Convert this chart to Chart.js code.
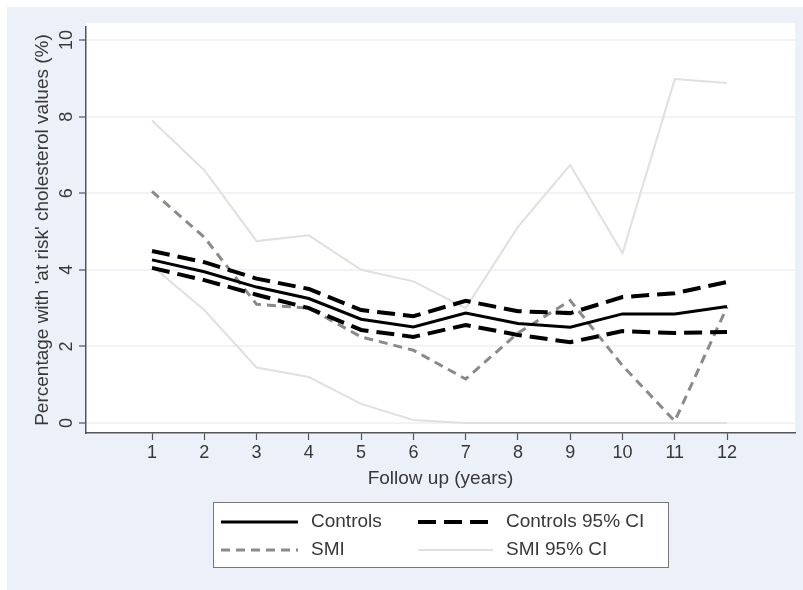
<!DOCTYPE html>
<html>
<head>
<meta charset="utf-8">
<script src="https://cdn.jsdelivr.net/npm/chart.js@4.4.1/dist/chart.umd.min.js"></script>
<style>
  html, body { margin: 0; padding: 0; background: #fff; }
</style>
</head>
<body>
<canvas id="chart" width="803" height="590"></canvas>
<script>
// values
const years = [1, 2, 3, 4, 5, 6, 7, 8, 9, 10, 11, 12];
const controls = [4.26, 3.95, 3.55, 3.25, 2.71, 2.51, 2.87, 2.6, 2.5, 2.85, 2.85, 3.04];
const controlsUpper = [4.49, 4.2, 3.77, 3.5, 2.95, 2.79, 3.19, 2.92, 2.87, 3.29, 3.39, 3.68];
const controlsLower = [4.05, 3.73, 3.35, 3.0, 2.43, 2.25, 2.56, 2.3, 2.11, 2.4, 2.35, 2.38];
const smi = [6.05, 4.85, 3.1, 3.0, 2.25, 1.9, 1.15, 2.35, 3.2, 1.5, 0.05, 3.03];
const smiUpper = [7.9, 6.6, 4.75, 4.9, 4.0, 3.7, 3.0, 5.12, 6.74, 4.43, 8.98, 8.88];
const smiLower = [4.1, 2.95, 1.45, 1.2, 0.5, 0.08, 0, 0, 0, 0, 0, 0];
const yTicks = [0, 2, 4, 6, 8, 10];
const legendLabels = ['Controls', 'Controls 95% CI', 'SMI', 'SMI 95% CI'];

const FONT = 'Liberation Sans, Arial, sans-serif';
const TXT = '#383838';

// background: bluish graph region, white plot region
const bgPlugin = {
  id: 'bg',
  beforeDraw(chart) {
    const ctx = chart.ctx, a = chart.chartArea;
    ctx.save();
    ctx.fillStyle = '#ecf0f8';
    ctx.fillRect(7, 7, chart.width - 7, chart.height - 7);
    ctx.fillStyle = '#fff';
    ctx.fillRect(a.left, a.top - 4, a.right - a.left, a.bottom - a.top + 4);
    ctx.restore();
  }
};

// two-column boxed legend like Stata's
const legendBox = {
  id: 'legendBox',
  afterDraw(chart) {
    const ctx = chart.ctx, a = chart.chartArea;
    const ds = chart.data.datasets;
    const w = 455, h = 65;
    const x0 = Math.round((a.left + a.right) / 2 - w / 2), y0 = 502;
    ctx.save();
    ctx.fillStyle = '#fff';
    ctx.fillRect(x0, y0, w, h);
    ctx.strokeStyle = '#777';
    ctx.lineWidth = 1;
    ctx.strokeRect(x0 + 0.5, y0 + 0.5, w, h);
    // dataset index for each legend entry
    const src = [0, 1, 3, 4];
    const cols = [{ s: 8, e: 85, t: 98 }, { s: 205, e: 280, t: 293 }];
    const rows = [20, 48];
    ctx.font = '19px ' + FONT;
    ctx.textBaseline = 'middle';
    legendLabels.forEach((lab, i) => {
      const d = ds[src[i]];
      const c = cols[i % 2], y = y0 + rows[Math.floor(i / 2)];
      ctx.beginPath();
      ctx.strokeStyle = d.borderColor;
      ctx.lineWidth = d.borderWidth;
      ctx.setLineDash(d.borderDash || []);
      ctx.moveTo(x0 + c.s, y);
      ctx.lineTo(x0 + c.e, y);
      ctx.stroke();
      ctx.setLineDash([]);
      ctx.fillStyle = TXT;
      ctx.fillText(lab, x0 + c.t, y);
    });
    ctx.restore();
  }
};

const ctrlCI = { borderColor: '#000', borderWidth: 4, borderDash: [18, 8], order: 2 };
const smiCI = { borderColor: '#e0e0e0', borderWidth: 2, borderDash: [], order: 4 };

const data = {
  labels: years,
  datasets: [
    { label: 'Controls', data: controls, borderColor: '#000', borderWidth: 3, order: 1 },
    Object.assign({ label: 'Controls 95% CI', data: controlsUpper }, ctrlCI),
    Object.assign({ label: 'Controls 95% CI lower', data: controlsLower }, ctrlCI),
    { label: 'SMI', data: smi, borderColor: '#8a8a8a', borderWidth: 3, borderDash: [9, 6], order: 3 },
    Object.assign({ label: 'SMI 95% CI', data: smiUpper }, smiCI),
    Object.assign({ label: 'SMI 95% CI lower', data: smiLower }, smiCI)
  ]
};

const options = {
  responsive: false,
  animation: false,
  layout: { padding: { left: 31, right: 8, top: 27, bottom: 100 } },
  elements: { point: { radius: 0 }, line: { tension: 0, fill: false } },
  plugins: { legend: { display: false }, tooltip: { enabled: false } },
  scales: {
    x: {
      type: 'linear',
      min: -0.263,
      max: 13.3,
      afterBuildTicks: s => { s.ticks = years.map(v => ({ value: v })); },
      afterFit: s => { s.height = 57; },
      border: { color: '#555', width: 1.5 },
      grid: { drawOnChartArea: false, tickColor: '#555', tickLength: 7, tickWidth: 1.2 },
      ticks: { padding: 2, maxRotation: 0, color: TXT, font: { family: FONT, size: 18 } },
      title: { display: true, text: 'Follow up (years)', color: TXT, padding: 0, font: { family: FONT, size: 19 } }
    },
    y: {
      type: 'linear',
      min: -0.26,
      max: 10.34,
      afterBuildTicks: s => { s.ticks = yTicks.map(v => ({ value: v })); },
      afterFit: s => { s.width = 55; },
      border: { color: '#555', width: 1.5 },
      grid: { color: '#f0f3f7', lineWidth: 2, tickColor: '#555', tickLength: 7, tickWidth: 1.2 },
      ticks: { minRotation: 90, maxRotation: 90, crossAlign: 'center', padding: 2, color: TXT, font: { family: FONT, size: 18 } },
      title: { display: true, text: "Percentage with 'at risk' cholesterol values (%)", color: TXT, padding: 0, font: { family: FONT, size: 19 } }
    }
  }
};

new Chart(document.getElementById('chart').getContext('2d'), {
  type: 'line',
  data: data,
  options: options,
  plugins: [bgPlugin, legendBox]
});
</script>
</body>
</html>
